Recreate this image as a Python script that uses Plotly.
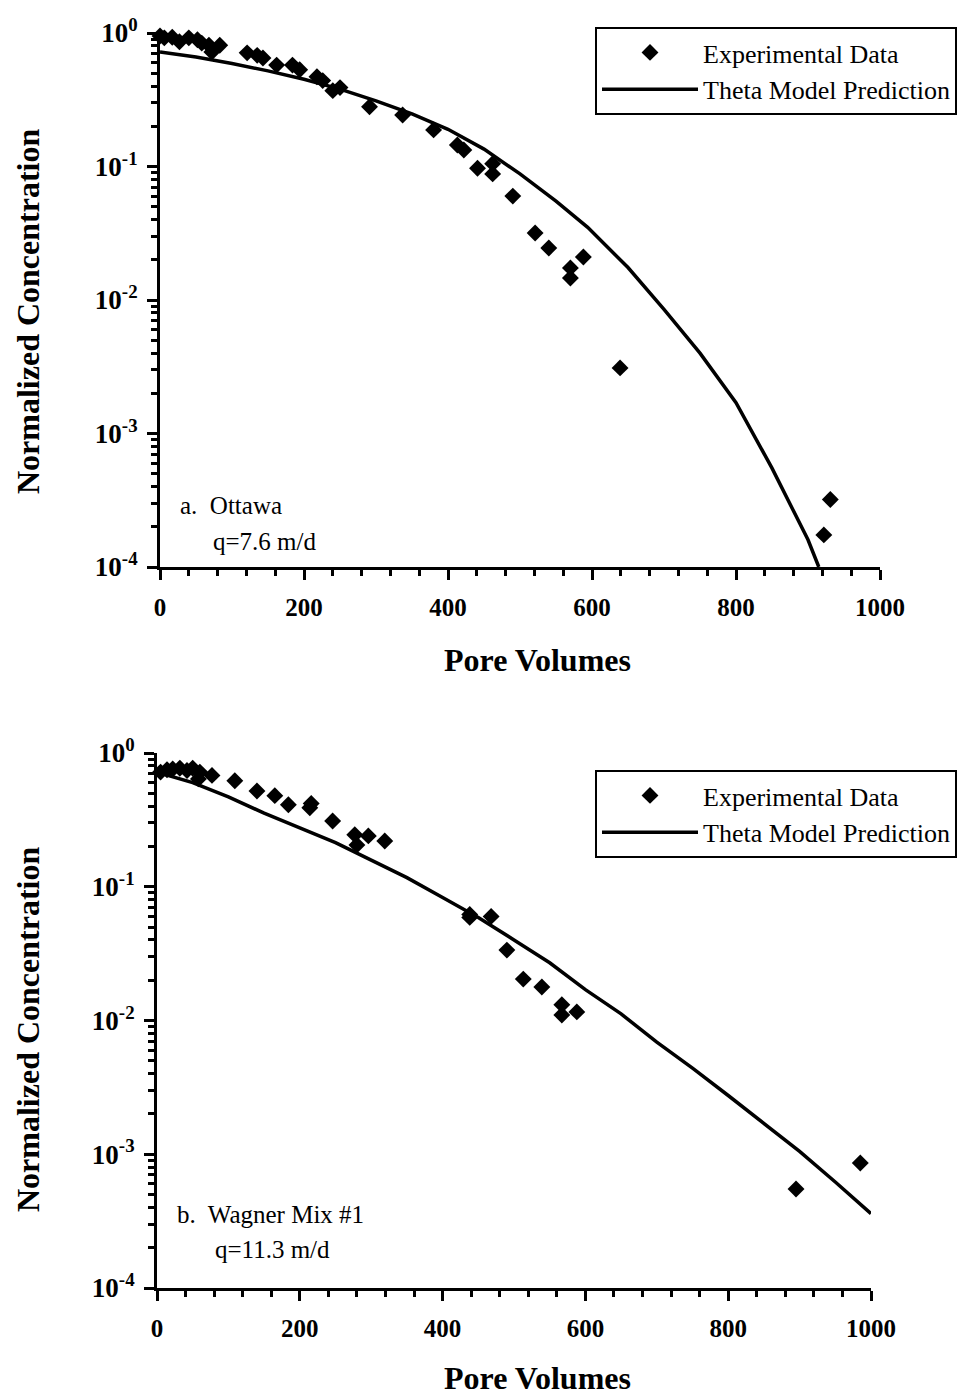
import plotly.graph_objects as go

# ---- Panel a: Ottawa ----
a_exp_x = [0, 6, 17, 27, 40, 52, 58, 68, 72, 83, 121, 135, 143, 162, 184, 194, 218, 226, 240, 250,
           291, 337, 380, 413, 422, 441, 462, 462, 490, 521, 540, 570, 570, 588, 639, 922, 931]
a_exp_y = [0.95, 0.92, 0.93, 0.86, 0.92, 0.89, 0.84, 0.81, 0.72, 0.81, 0.71, 0.68, 0.65, 0.575, 0.575,
           0.53, 0.47, 0.44, 0.37, 0.39, 0.28, 0.243, 0.188, 0.145, 0.133, 0.097, 0.105, 0.088, 0.060,
           0.0318, 0.0245, 0.0174, 0.0146, 0.021, 0.0031, 1.74e-4, 3.2e-4]
a_mod_x = [0, 50, 100, 150, 200, 250, 300, 350, 400, 450, 500, 550, 594, 650, 700, 750, 800, 850, 900, 915]
a_mod_y = [0.72, 0.66, 0.59, 0.52, 0.45, 0.38, 0.31, 0.248, 0.19, 0.135, 0.088, 0.055, 0.035, 0.0175,
           0.0085, 0.0040, 0.0017, 5.5e-4, 1.6e-4, 1.0e-4]

# ---- Panel b: Wagner Mix #1 ----
b_exp_x = [5, 14, 22, 32, 42, 50, 60, 58, 77, 109, 140, 165, 184, 214, 216, 246, 277, 280, 296, 319,
           438, 438, 468, 490, 513, 539, 567, 567, 588, 895, 985]
b_exp_y = [0.72, 0.75, 0.76, 0.77, 0.74, 0.77, 0.72, 0.64, 0.68, 0.62, 0.52, 0.48, 0.41, 0.39, 0.42,
           0.31, 0.245, 0.205, 0.24, 0.22, 0.062, 0.059, 0.060, 0.0336, 0.0204, 0.0178, 0.0131, 0.011,
           0.0116, 5.5e-4, 8.6e-4]
b_mod_x = [0, 50, 100, 150, 200, 250, 300, 350, 400, 450, 500, 550, 600, 650, 700, 750, 800, 850, 900,
           950, 1000]
b_mod_y = [0.72, 0.60, 0.47, 0.355, 0.275, 0.214, 0.158, 0.117, 0.083, 0.059, 0.040, 0.027, 0.017,
           0.0112, 0.0069, 0.0044, 0.00275, 0.0017, 0.00105, 6.2e-4, 3.6e-4]

x_ticks = [0, 200, 400, 600, 800, 1000]
y_ticks = [1e-4, 1e-3, 1e-2, 1e-1, 1]
y_ticktext = ["10<sup>-4</sup>", "10<sup>-3</sup>", "10<sup>-2</sup>", "10<sup>-1</sup>", "10<sup>0</sup>"]
y_minor = [m * 10 ** e for e in range(-4, 0) for m in range(2, 10)]

exp_name = "Experimental Data"
mod_name = "Theta Model Prediction"

FONT = "Liberation Serif"
OFF = 8  # page body margin
W, H = 975 - OFF, 1396 - OFF


def px(xp):
    return (xp - OFF) / W


def py(yp):
    return 1 - (yp - OFF) / H


fig = go.Figure()
fig.add_trace(go.Scatter(x=a_mod_x, y=a_mod_y, mode="lines", name=mod_name,
                         line=dict(color="black", width=3.5), xaxis="x", yaxis="y", legend="legend",
                         legendrank=2))
fig.add_trace(go.Scatter(x=a_exp_x, y=a_exp_y, mode="markers", name=exp_name,
                         marker=dict(symbol="diamond", size=13, color="black"), cliponaxis=False,
                         xaxis="x", yaxis="y", legend="legend", legendrank=1))
fig.add_trace(go.Scatter(x=b_mod_x, y=b_mod_y, mode="lines", name=mod_name,
                         line=dict(color="black", width=3.5), xaxis="x2", yaxis="y2", legend="legend2",
                         legendrank=2))
fig.add_trace(go.Scatter(x=b_exp_x, y=b_exp_y, mode="markers", name=exp_name,
                         marker=dict(symbol="diamond", size=13, color="black"), cliponaxis=False,
                         xaxis="x2", yaxis="y2", legend="legend2", legendrank=1))

xtickfont = dict(family=FONT, size=25, color="black", weight="bold")
ytickfont = dict(family=FONT, size=27, color="black", weight="bold")


def xaxis(domain, anchor):
    return dict(domain=domain, anchor=anchor, range=[0, 1000], tickvals=x_ticks,
                ticks="outside", ticklen=10, tickwidth=2.5, tickcolor="black",
                showline=True, linecolor="black", linewidth=3, showgrid=False, zeroline=False,
                tickfont=xtickfont, ticklabelstandoff=6, automargin=False,
                minor=dict(dtick=40, tick0=0, ticks="outside", ticklen=6, tickwidth=2.5,
                           tickcolor="black", showgrid=False))


def yaxis(domain, anchor):
    return dict(domain=domain, anchor=anchor, type="log", range=[-4, 0], tickvals=y_ticks,
                ticktext=y_ticktext, ticks="outside", ticklen=10, tickwidth=2.5, tickcolor="black",
                showline=True, linecolor="black", linewidth=3, showgrid=False, zeroline=False,
                tickfont=ytickfont, ticklabelstandoff=4, automargin=False,
                minor=dict(tickvals=y_minor, ticks="outside", ticklen=6, tickwidth=2.5,
                           tickcolor="black", showgrid=False))


def legend(ytop):
    return dict(x=px(595), y=ytop, xanchor="left", yanchor="top", bgcolor="white",
                bordercolor="black", borderwidth=2, itemwidth=96, tracegroupgap=0,
                font=dict(family=FONT, size=26, color="black"), traceorder="normal")


fig.update_layout(
    width=W, height=H,
    margin=dict(l=0, r=0, t=0, b=0),
    paper_bgcolor="white", plot_bgcolor="white",
    xaxis=xaxis([px(160), px(880)], "y"),
    yaxis=yaxis([py(567), py(33)], "x"),
    xaxis2=xaxis([px(157), px(871)], "y2"),
    yaxis2=yaxis([py(1288), py(753)], "x2"),
    legend=legend(py(27)),
    legend2=legend(py(770)),
    showlegend=True,
)

ann_font = dict(family=FONT, size=25, color="black")
title_font = dict(family=FONT, size=32, color="black", weight="bold")
annotations = [
    dict(text="a.  Ottawa", x=px(178), y=py(506)),
    dict(text="q=7.6 m/d", x=px(211), y=py(541)),
    dict(text="b.  Wagner Mix #1", x=px(175), y=py(1214)),
    dict(text="q=11.3 m/d", x=px(213), y=py(1249)),
]
for a in annotations:
    a.update(xref="paper", yref="paper", showarrow=False, font=ann_font, xanchor="left",
             yanchor="middle")
annotations += [
    dict(text="Pore Volumes", x=px(537), y=py(660), xref="paper", yref="paper", showarrow=False,
         font=title_font, xanchor="center", yanchor="middle"),
    dict(text="Pore Volumes", x=px(537), y=py(1378), xref="paper", yref="paper", showarrow=False,
         font=title_font, xanchor="center", yanchor="middle"),
    dict(text="Normalized Concentration", x=px(28), y=py(312), xref="paper", yref="paper",
         showarrow=False, font=title_font, textangle=-90, xanchor="center", yanchor="middle"),
    dict(text="Normalized Concentration", x=px(28), y=py(1030), xref="paper", yref="paper",
         showarrow=False, font=title_font, textangle=-90, xanchor="center", yanchor="middle"),
]
fig.update_layout(annotations=annotations)

fig.write_html("out.html")
